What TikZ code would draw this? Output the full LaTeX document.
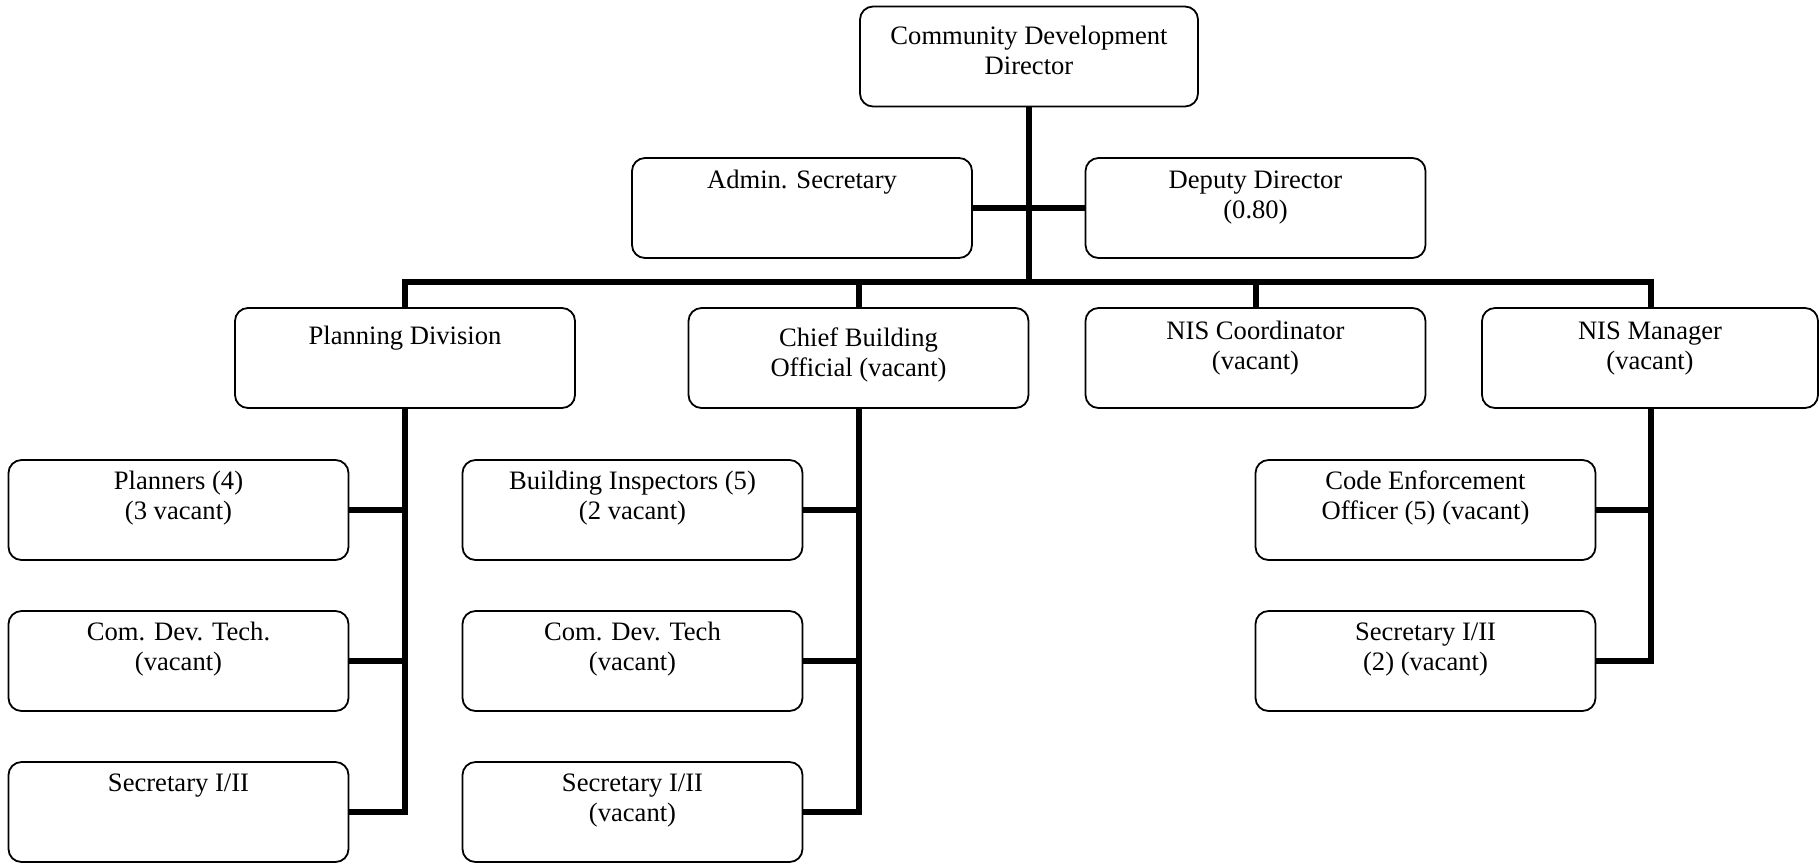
\documentclass[tikz,border=0pt]{standalone}
\usepackage{fontspec}
\setmainfont{Liberation Serif}
\begin{document}
\begin{tikzpicture}[x=0.5pt,y=-0.5pt,
  box/.style={draw=black, line width=0.9pt, rounded corners=6.5pt, fill=white,
    minimum width=170pt, minimum height=50pt, inner sep=0pt},
  txt/.style={align=center, anchor=base, inner sep=0pt,
    font=\fontsize{13.3}{15.2}\selectfont},
  conn/.style={draw=black, line width=3pt, line join=miter, line cap=rect}]
\useasboundingbox (0,0) rectangle (1819,864);

% connectors first
\coordinate (busy) at (0,282);
\coordinate (dirS) at (1029,107);
\coordinate (planC) at (405,308);
\coordinate (nismC) at (1651,308);
\draw[conn] (dirS) -- (1029,282);
\draw[conn] (planC) |- (1651,282) -- (nismC);
\draw[conn] (858.5,282) -- (858.5,308);
\draw[conn] (1255.5,282) -- (1255.5,308);
\draw[conn] (972,208) -- (1086,208);
\draw[conn] (405,408) |- (348,812);
\draw[conn] (348,510) -- (405,510);
\draw[conn] (348,661) -- (405,661);
\draw[conn] (858.5,408) |- (802,812);
\draw[conn] (802,510) -- (858.5,510);
\draw[conn] (802,661) -- (858.5,661);
\draw[conn] (1651,408) |- (1595,661);
\draw[conn] (1595,510) -- (1651,510);

% boxes
\node[box, minimum width=169pt] (dir) at (1029,56.5) {};
\node[box] (admin) at (802,208) {};
\node[box] (dep) at (1255.5,208) {};
\node[box] (plan) at (405,358) {};
\node[box] (chief) at (858.5,358) {};
\node[box] (nisc) at (1255.5,358) {};
\node[box, minimum width=168pt] (nism) at (1650,358) {};
\node[box] (planners) at (178.5,510) {};
\node[box] (cdt1) at (178.5,661) {};
\node[box] (sec1) at (178.5,812) {};
\node[box] (bi) at (632.5,510) {};
\node[box] (cdt2) at (632.5,661) {};
\node[box] (sec2) at (632.5,812) {};
\node[box] (ce) at (1425.5,510) {};
\node[box] (sec3) at (1425.5,661) {};

% texts (base anchor = baseline of the last line)
\node[txt] (dirT) at ([yshift=-34.4pt]dir.north) {Community Development\\Director};
\node[txt] (adminT) at ([yshift=-15.5pt]admin.north) {Admin. Secretary};
\node[txt] (depT) at ([yshift=-30.7pt]dep.north) {Deputy Director\\(0.80)};
\node[txt] (planT) at ([yshift=-18.5pt]plan.north) {Planning Division};
\node[txt] (chiefT) at ([yshift=-34.7pt]chief.north) {Chief Building\\Official (vacant)};
\node[txt] (niscT) at ([yshift=-31.2pt]nisc.north) {NIS Coordinator\\(vacant)};
\node[txt] (nismT) at ([yshift=-31.2pt]nism.north) {NIS Manager\\(vacant)};
\node[txt] (plannersT) at ([yshift=-30.2pt]planners.north) {Planners (4)\\(3 vacant)};
\node[txt] (cdt1T) at ([yshift=-30.2pt]cdt1.north) {Com. Dev. Tech.\\(vacant)};
\node[txt] (sec1T) at ([yshift=-15pt]sec1.north) {Secretary I/II};
\node[txt] (biT) at ([yshift=-30.2pt]bi.north) {Building Inspectors (5)\\(2 vacant)};
\node[txt] (cdt2T) at ([yshift=-30.2pt]cdt2.north) {Com. Dev. Tech\\(vacant)};
\node[txt] (sec2T) at ([yshift=-30.2pt]sec2.north) {Secretary I/II\\(vacant)};
\node[txt] (ceT) at ([yshift=-30.2pt]ce.north) {Code Enforcement\\Officer (5) (vacant)};
\node[txt] (sec3T) at ([yshift=-30.2pt]sec3.north) {Secretary I/II\\(2) (vacant)};
\end{tikzpicture}
\end{document}
